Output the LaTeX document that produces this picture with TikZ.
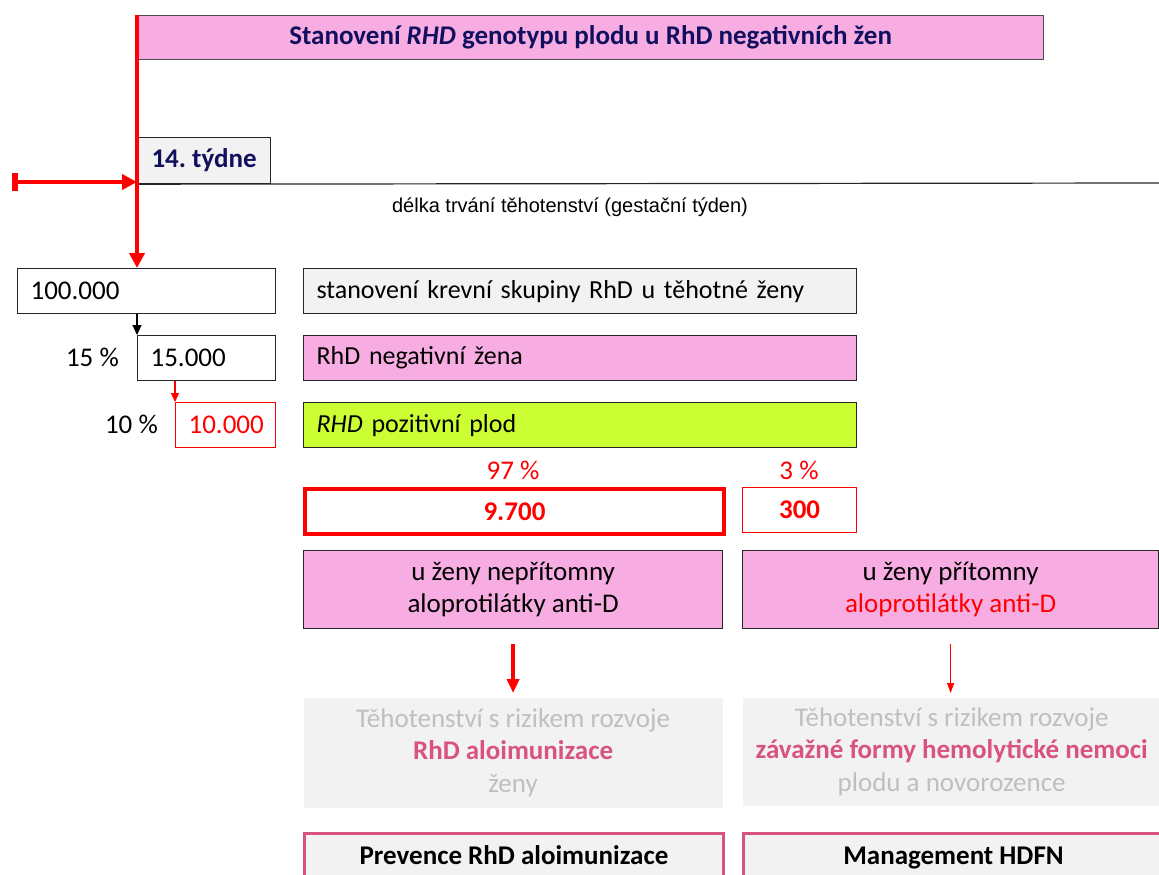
\documentclass[tikz,border=0pt]{standalone}
\usepackage{fontspec}
\setmainfont{Carlito}
\newfontfamily\arialfont{Liberation Sans}
\usetikzlibrary{arrows.meta}
\frenchspacing
\definecolor{pinkfill}{HTML}{F8ADE2}
\definecolor{navy}{HTML}{10105E}
\definecolor{lightgray}{HTML}{F2F2F2}
\definecolor{softgray}{HTML}{BFBFBF}
\definecolor{rose}{HTML}{D9537F}
\definecolor{lime}{HTML}{CCFF33}
\definecolor{edge}{HTML}{262626}
\definecolor{alarm}{HTML}{FF0000}
\newcommand\bodyfont{\fontsize{27pt}{32.5pt}\selectfont}
\newcommand\rowfont{\fontsize{26pt}{32pt}\selectfont}

\begin{document}
\begin{tikzpicture}[x=1pt,y=-1pt,
  box/.style={draw=edge, line width=1.2pt, anchor=north west,
              inner xsep=13pt, inner ysep=0pt, font=\bodyfont},
  leftbox/.style={box, align=left},
  redline/.style={draw=alarm, line width=#1},
  lbl/.style={font=\bodyfont, inner sep=0pt}
]
\useasboundingbox (0,0) rectangle (1159,875);
\clip (0,0) rectangle (1159,875);

% heading
\node[box, draw=gray!60!black, fill=pinkfill, minimum width=906pt, minimum height=44pt,
      font=\bodyfont\bfseries, text=navy] (title) at (137,15)
  {Stanovení \textit{RHD} genotypu plodu u RhD negativních žen};

% week marker and time axis
\node[box, fill=lightgray, minimum width=133pt, minimum height=46pt, inner xsep=4pt,
      font=\bodyfont\bfseries, text=navy] (week) at (137,137) {14. týdne};
\coordinate (axisend) at (1159,183);
\draw[line width=1.2pt, edge] (week.south west) -- (axisend);
\node[font=\arialfont\fontsize{20pt}{24pt}\selectfont] (axis) at (570,207)
  {délka trvání těhotenství (gestační týden)};

% population cascade
\node[leftbox, minimum width=258pt, minimum height=45pt, text width=232pt] (n100) at (17,268) {100.000};
\node[leftbox, fill=lightgray, minimum width=553pt, minimum height=45pt, text width=527pt, font=\rowfont] (screen) at (303,268)
  {stanovení krevní skupiny RhD u těhotné ženy};

\node[leftbox, minimum width=138pt, minimum height=45pt, text width=112pt] (n15) at (137,335) {15.000};
\node[leftbox, fill=pinkfill, minimum width=553pt, minimum height=45pt, text width=527pt, font=\rowfont] (rhdneg) at (303,335)
  {RhD negativní žena};
\node[lbl, anchor=east] (p15) at (119,357) {15 \%};

\node[leftbox, draw=alarm, text=alarm, minimum width=100pt, minimum height=45pt, text width=74pt] (n10) at (175,402) {10.000};
\node[leftbox, fill=lime, minimum width=553pt, minimum height=45pt, text width=527pt, font=\rowfont] (fetus) at (303,402)
  {\textit{RHD} pozitivní plod};
\node[lbl, anchor=east] (p10) at (158,424) {10 \%};

% split by antibody status
\node[lbl, text=alarm] (p97) at (513,470) {97 \%};
\node[lbl, text=alarm] (p3) at (799,470) {3 \%};
\node[box, draw=alarm, line width=4pt, text=alarm, font=\bodyfont\bfseries,
      minimum width=419pt, minimum height=45pt] (n9700) at (303,487) {9.700};
\node[box, draw=alarm, text=alarm, font=\bodyfont\bfseries,
      minimum width=114pt, minimum height=45pt] (n300) at (742,487) {300};

\node[box, fill=pinkfill, align=center, minimum width=419pt, minimum height=78pt] (noab) at (303,550)
  {u ženy nepřítomny\\aloprotilátky anti-D};
\node[box, fill=pinkfill, align=center, minimum width=416pt, minimum height=78pt] (ab) at (742,550)
  {u ženy přítomny\\\textcolor{alarm}{aloprotilátky anti-D}};

% risks
\node[box, draw=none, fill=lightgray, text=softgray, align=center,
      minimum width=419pt, minimum height=110pt] (risk1) at (303,697)
  {Těhotenství s rizikem rozvoje\\\textcolor{rose}{\bfseries RhD aloimunizace}\\ženy};
\node[box, draw=none, fill=lightgray, text=softgray, align=center,
      minimum width=417pt, minimum height=108pt] (risk2) at (742,697)
  {Těhotenství s rizikem rozvoje\\\textcolor{rose}{\bfseries závažné formy hemolytické nemoci}\\plodu a novorozence};

% management
\tikzset{mgmtbox/.style={box, draw=rose, line width=3pt, fill=lightgray, font=\bodyfont\bfseries,
      text height=18pt, text depth=7pt, minimum height=50pt}}
\node[mgmtbox, minimum width=419pt] (prev) at (303,832) {Prevence RhD aloimunizace};
\node[mgmtbox, minimum width=420pt] (mgmt) at (742,832) {Management HDFN};

% connectors
\draw[line width=1.2pt, -{Triangle[width=9pt,length=10pt]}]
  (n100.south -| n15.west) -- (n15.north west);
\draw[redline=1.2pt, -{Triangle[width=8pt,length=9pt]}]
  (n15.south -| n10.west) -- (n10.north west);
\draw[redline=4.5pt, -{Triangle[width=12pt,length=14pt]}, shorten <=15pt, shorten >=4pt]
  (noab.south) -- (risk1.north);
\draw[redline=1.2pt, -{Triangle[width=7pt,length=10pt]}, shorten <=15pt, shorten >=4pt]
  (ab.south) -- (ab.south |- risk2.north);

% time pointer
\coordinate (barstart) at (12,182);
\draw[redline=4pt, {Bar[width=18pt,line width=6pt]}-{Triangle[width=15pt,length=15pt]}]
  (barstart) -- (barstart -| week.west);
\draw[redline=4pt, -{Triangle[width=15pt,length=15pt]}]
  (title.north west) -- (title.north west |- n100.north);
\end{tikzpicture}
\end{document}
